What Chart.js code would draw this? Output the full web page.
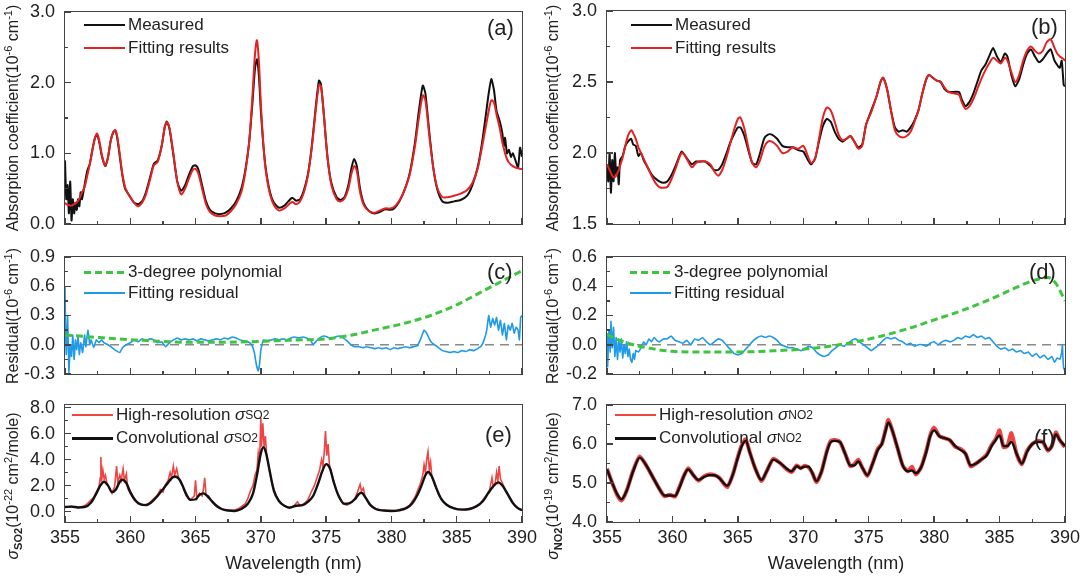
<!DOCTYPE html>
<html lang="en">
<head>
  <meta charset="UTF-8">
  <title>SO2 / NO2 absorption fitting</title>
  <script src="https://cdn.jsdelivr.net/npm/chart.js"></script>
  <style>
    body { margin: 0; background: #fff; font-family: Arial, "Liberation Sans", sans-serif; color: #222; }
    #wrap { position: relative; width: 1080px; height: 579px; overflow: hidden; }
    canvas { position: absolute; }
    .box { position: absolute; border: 1.5px solid #444; box-sizing: border-box; }
    .tk { position: absolute; background: #444; }
    .yt { position: absolute; transform: translate(-50%, -50%) rotate(-90deg); white-space: nowrap; font-size: 16px; line-height: 18px; }
    .yt sup, .yt sub { font-size: 11px; line-height: 0; }
    .lg { position: absolute; height: 20px; display: flex; align-items: center; font-size: 17px; white-space: nowrap; }
    .lg sub { font-size: 12px; line-height: 0; }
    .sw { display: inline-block; width: 41px; height: 2px; margin-right: 3px; }
    .dash { height: 3px; background: repeating-linear-gradient(90deg, #3ec43e 0 7px, transparent 7px 11px); }
    .tag { position: absolute; font-size: 22px; line-height: 22px; }
  </style>
</head>
<body>
<div id="wrap">
  <canvas id="pa" width="540" height="240" style="left:0;top:0"></canvas>
  <canvas id="pb" width="540" height="240" style="left:540px;top:0"></canvas>
  <canvas id="pc" width="540" height="145" style="left:0;top:240px"></canvas>
  <canvas id="pd" width="540" height="145" style="left:540px;top:240px"></canvas>
  <canvas id="pe" width="540" height="194" style="left:0;top:385px"></canvas>
  <canvas id="pf" width="540" height="194" style="left:540px;top:385px"></canvas>
  <div id="frames"></div>

  <!-- axis titles -->
  <div class="yt" style="left:13px;top:118px">Absorption coefficient(10<sup>-6</sup> cm<sup>-1</sup>)</div>
  <div class="yt" style="left:553px;top:118px">Absorption coefficient(10<sup>-6</sup> cm<sup>-1</sup>)</div>
  <div class="yt" style="left:13px;top:316px">Residual(10<sup>-6</sup> cm<sup>-1</sup>)</div>
  <div class="yt" style="left:553px;top:316px">Residual(10<sup>-6</sup> cm<sup>-1</sup>)</div>
  <div class="yt" style="left:13px;top:486px"><i>σ</i><sub><b>SO2</b></sub>(10<sup>-22</sup> cm<sup>2</sup>/mole)</div>
  <div class="yt" style="left:553px;top:486px"><i>σ</i><sub><b>NO2</b></sub>(10<sup>-19</sup> cm<sup>2</sup>/mole)</div>

  <!-- legends -->
  <div class="lg" style="left:84px;top:15px"><span class="sw" style="background:#111"></span>Measured</div>
  <div class="lg" style="left:84px;top:38px"><span class="sw" style="background:#e52222"></span>Fitting results</div>
  <div class="lg" style="left:631px;top:15px"><span class="sw" style="background:#111"></span>Measured</div>
  <div class="lg" style="left:631px;top:38px"><span class="sw" style="background:#e52222"></span>Fitting results</div>
  <div class="lg" style="left:84px;top:262px"><span class="sw dash"></span>3-degree polynomial</div>
  <div class="lg" style="left:84px;top:283px"><span class="sw" style="background:#1e9ae8"></span>Fitting residual</div>
  <div class="lg" style="left:630px;top:262px"><span class="sw dash"></span>3-degree polynomial</div>
  <div class="lg" style="left:630px;top:283px"><span class="sw" style="background:#1e9ae8"></span>Fitting residual</div>
  <div class="lg" style="left:72px;top:405px"><span class="sw" style="background:#ee4444"></span>High-resolution&nbsp;<i>σ</i><sub>SO2</sub></div>
  <div class="lg" style="left:72px;top:428px"><span class="sw" style="background:#111;height:3px"></span>Convolutional&nbsp;<i>σ</i><sub>SO2</sub></div>
  <div class="lg" style="left:615px;top:405px"><span class="sw" style="background:#ee4444"></span>High-resolution&nbsp;<i>σ</i><sub>NO2</sub></div>
  <div class="lg" style="left:615px;top:428px"><span class="sw" style="background:#111;height:3px"></span>Convolutional&nbsp;<i>σ</i><sub>NO2</sub></div>

  <div class="tag" style="left:487px;top:17px">(a)</div>
  <div class="tag" style="left:1031px;top:16px">(b)</div>
  <div class="tag" style="left:487px;top:261px">(c)</div>
  <div class="tag" style="left:1029px;top:261px">(d)</div>
  <div class="tag" style="left:485px;top:424px">(e)</div>
  <div class="tag" style="left:1034px;top:427px">(f)</div>
</div>

<script>
// ---- data ----
const xTicks = [355, 360, 365, 370, 375, 380, 385, 390];

// (a) SO2 measured vs fit
const aWl = [355.0,355.1,355.2,355.3,355.4,355.5,355.6,355.7,355.8,355.9,356.0,356.1,356.2,356.3,356.5,356.7,356.9,357.1,357.3,357.45,357.6,357.8,358.0,358.1,358.3,358.5,358.7,358.85,359.0,359.2,359.4,359.6,359.8,360.0,360.3,360.6,360.9,361.2,361.5,361.8,362.1,362.4,362.65,362.8,363.0,363.3,363.6,363.9,364.2,364.5,364.8,365.0,365.2,365.5,365.8,366.1,366.5,366.9,367.3,367.7,368.1,368.5,368.8,369.1,369.35,369.55,369.7,369.85,370.0,370.2,370.4,370.7,371.0,371.4,371.8,372.1,372.4,372.7,373.0,373.3,373.6,373.9,374.2,374.45,374.6,374.8,375.1,375.4,375.8,376.1,376.4,376.7,376.95,377.15,377.35,377.6,377.9,378.3,378.7,379.1,379.5,379.9,380.2,380.6,381.0,381.4,381.8,382.1,382.4,382.6,382.9,383.2,383.5,383.9,384.3,384.8,385.3,385.8,386.2,386.6,386.9,387.2,387.45,387.65,387.85,388.05,388.3,388.5,388.6,388.7,388.85,389.0,389.15,389.3,389.5,389.7,389.85,390.0];
const aMeas = [0.9,0.35,0.55,0.15,0.6,0.05,0.35,0.15,0.3,0.2,0.35,0.25,0.45,0.35,0.55,0.75,0.85,1.05,1.22,1.26,1.18,0.98,0.85,0.82,0.95,1.18,1.3,1.32,1.22,0.95,0.68,0.5,0.44,0.38,0.3,0.28,0.32,0.45,0.65,0.85,0.9,1.1,1.38,1.45,1.35,0.98,0.6,0.47,0.55,0.7,0.82,0.83,0.78,0.55,0.32,0.2,0.15,0.14,0.16,0.22,0.32,0.5,0.75,1.15,1.7,2.2,2.33,2.1,1.6,1.1,0.75,0.45,0.3,0.23,0.26,0.32,0.37,0.33,0.35,0.48,0.7,1.1,1.65,2.03,1.98,1.6,0.95,0.58,0.38,0.34,0.38,0.55,0.8,0.92,0.82,0.5,0.28,0.18,0.15,0.17,0.21,0.2,0.22,0.32,0.48,0.72,1.15,1.6,1.96,1.85,1.3,0.8,0.5,0.32,0.3,0.32,0.34,0.4,0.55,0.8,1.1,1.5,1.85,2.05,1.9,1.6,1.45,1.28,1.1,1.22,1.0,1.05,0.95,1.0,0.9,0.8,1.08,0.95];
const aFit = [0.3,0.28,0.27,0.27,0.26,0.26,0.27,0.28,0.29,0.31,0.33,0.36,0.4,0.45,0.52,0.68,0.85,1.05,1.22,1.28,1.2,1.0,0.85,0.83,0.95,1.18,1.3,1.33,1.24,0.98,0.7,0.52,0.44,0.38,0.3,0.25,0.3,0.42,0.62,0.83,0.88,1.1,1.38,1.44,1.36,1.0,0.6,0.42,0.5,0.65,0.77,0.78,0.72,0.5,0.28,0.17,0.12,0.11,0.12,0.18,0.28,0.45,0.72,1.15,1.8,2.4,2.6,2.3,1.7,1.1,0.72,0.42,0.27,0.19,0.22,0.27,0.31,0.28,0.32,0.45,0.68,1.08,1.6,1.97,1.95,1.6,0.95,0.55,0.35,0.32,0.36,0.5,0.72,0.82,0.75,0.45,0.26,0.18,0.16,0.19,0.22,0.22,0.24,0.33,0.48,0.7,1.1,1.5,1.82,1.75,1.25,0.8,0.52,0.38,0.38,0.4,0.43,0.48,0.58,0.78,1.05,1.35,1.6,1.75,1.72,1.55,1.35,1.15,1.08,1.0,0.92,0.87,0.84,0.82,0.8,0.79,0.78,0.78];

// (b) NO2 measured vs fit
const bWl = [355.0,355.1,355.2,355.3,355.4,355.5,355.6,355.7,355.8,355.9,356.0,356.2,356.4,356.6,356.85,357.0,357.2,357.4,357.6,357.8,358.1,358.4,358.7,359.0,359.3,359.6,359.9,360.2,360.5,360.7,360.9,361.2,361.5,361.8,362.1,362.5,362.9,363.2,363.5,363.8,364.1,364.4,364.7,365.0,365.2,365.5,365.8,366.1,366.4,366.7,367.0,367.3,367.6,368.0,368.4,368.8,369.2,369.6,370.0,370.3,370.6,370.9,371.2,371.5,371.8,372.1,372.4,372.7,373.0,373.3,373.6,373.9,374.2,374.5,374.8,375.2,375.6,375.9,376.1,376.4,376.7,377.0,377.3,377.6,377.9,378.2,378.5,378.8,379.1,379.4,379.6,379.9,380.2,380.5,380.8,381.1,381.5,381.9,382.1,382.4,382.7,383.0,383.3,383.6,383.9,384.2,384.5,384.8,385.1,385.4,385.6,385.9,386.2,386.5,386.8,387.1,387.4,387.7,388.0,388.3,388.6,388.9,389.2,389.4,389.6,389.75,389.9,390.0];
const bMeas = [1.92,1.8,2.0,1.72,1.95,1.8,2.0,1.85,1.9,1.78,1.95,1.98,2.05,2.08,2.1,2.06,2.05,1.98,2.0,1.95,1.9,1.85,1.82,1.8,1.79,1.8,1.84,1.9,1.97,2.01,1.99,1.95,1.92,1.94,1.94,1.94,1.91,1.88,1.88,1.92,1.99,2.07,2.13,2.18,2.18,2.12,2.02,1.93,1.92,2.0,2.1,2.13,2.13,2.1,2.05,2.04,2.04,2.02,2.01,1.96,1.92,1.96,2.08,2.19,2.24,2.22,2.15,2.1,2.08,2.1,2.12,2.08,2.04,2.06,2.2,2.3,2.4,2.5,2.53,2.45,2.3,2.18,2.15,2.16,2.15,2.18,2.23,2.3,2.42,2.52,2.55,2.53,2.51,2.5,2.45,2.43,2.43,2.43,2.38,2.33,2.36,2.42,2.5,2.58,2.62,2.68,2.74,2.68,2.64,2.7,2.68,2.55,2.47,2.52,2.62,2.7,2.73,2.68,2.64,2.66,2.7,2.73,2.65,2.62,2.6,2.65,2.48,2.47];
const bFit = [1.92,1.9,1.88,1.86,1.84,1.83,1.83,1.84,1.86,1.88,1.91,1.97,2.05,2.12,2.16,2.14,2.1,2.04,2.0,1.96,1.9,1.84,1.79,1.76,1.755,1.76,1.81,1.88,1.96,2.0,1.99,1.94,1.9,1.93,1.94,1.94,1.92,1.87,1.84,1.88,1.96,2.06,2.16,2.24,2.25,2.17,2.04,1.93,1.9,1.95,2.04,2.08,2.08,2.05,2.0,2.01,2.04,2.03,2.05,1.99,1.93,1.96,2.1,2.25,2.32,2.3,2.22,2.13,2.09,2.1,2.12,2.08,2.03,2.05,2.2,2.29,2.4,2.5,2.53,2.45,2.3,2.16,2.12,2.11,2.12,2.15,2.22,2.3,2.42,2.52,2.55,2.53,2.51,2.5,2.46,2.43,2.42,2.41,2.36,2.31,2.33,2.38,2.45,2.52,2.58,2.63,2.67,2.65,2.63,2.67,2.65,2.57,2.5,2.55,2.65,2.72,2.75,2.72,2.7,2.72,2.78,2.8,2.74,2.7,2.68,2.67,2.66,2.65];

// (c) SO2 residual and baseline polynomial
const cPolyWl = [355,357,359,361,363,365,367,369,371,373,375,377,379,381,383,385,387,388,389,390];
const cPoly = [0.1,0.08,0.06,0.045,0.03,0.025,0.025,0.03,0.04,0.05,0.06,0.1,0.16,0.22,0.3,0.41,0.55,0.62,0.69,0.76];
const cResWl = [355.0,355.05,355.1,355.2,355.3,355.4,355.5,355.6,355.7,355.8,355.9,356.0,356.1,356.2,356.35,356.5,356.6,356.75,356.9,357.0,357.2,357.4,357.6,357.8,358.0,358.3,358.6,358.9,359.2,359.4,359.7,360.0,360.3,360.6,360.9,361.2,361.5,361.8,362.1,362.4,362.7,363.0,363.3,363.6,363.9,364.2,364.5,364.8,365.1,365.4,365.7,366.0,366.3,366.6,366.9,367.2,367.5,367.8,368.1,368.4,368.7,369.0,369.3,369.5,369.65,369.8,369.9,370.0,370.2,370.5,370.8,371.1,371.4,371.7,372.0,372.3,372.6,372.9,373.2,373.5,373.8,374.0,374.2,374.5,374.8,375.1,375.4,375.7,376.0,376.3,376.6,376.9,377.2,377.5,377.8,378.1,378.4,378.7,379.0,379.3,379.6,379.9,380.2,380.5,380.8,381.1,381.4,381.7,382.0,382.3,382.5,382.7,382.9,383.1,383.3,383.6,383.9,384.2,384.5,384.8,385.1,385.4,385.7,386.0,386.3,386.6,386.9,387.1,387.3,387.45,387.6,387.75,387.9,388.05,388.2,388.35,388.5,388.65,388.8,388.95,389.1,389.25,389.4,389.55,389.7,389.8,389.9,390.0];
const cRes = [0.6,0.1,-0.1,0.3,-0.28,0.0,-0.12,0.1,-0.15,0.05,-0.05,0.08,-0.1,0.02,-0.08,0.1,-0.02,0.15,0.0,0.05,-0.03,0.05,0.02,0.05,0.02,0.0,-0.03,-0.06,-0.08,-0.03,0.0,0.02,0.05,0.03,0.06,0.04,0.06,0.05,0.02,0.03,-0.02,0.02,0.05,0.07,0.05,0.06,0.05,0.06,0.04,0.06,0.05,0.04,0.05,0.06,0.05,0.07,0.06,0.08,0.07,0.05,0.04,0.03,0.0,-0.08,-0.2,-0.27,-0.2,-0.05,0.05,0.04,0.05,0.06,0.05,0.06,0.05,0.07,0.08,0.07,0.08,0.07,0.05,0.0,0.03,0.07,0.09,0.08,0.06,0.08,0.09,0.07,0.04,0.0,-0.02,-0.02,-0.03,-0.02,-0.03,-0.04,-0.03,-0.04,-0.03,-0.05,-0.03,-0.04,-0.03,-0.02,-0.03,-0.02,-0.01,0.08,0.15,0.12,0.06,0.02,0.0,-0.03,-0.06,-0.07,-0.08,-0.07,-0.08,-0.06,-0.07,-0.05,-0.06,-0.04,-0.01,0.05,0.15,0.3,0.18,0.27,0.2,0.28,0.15,0.25,0.1,0.22,0.05,0.2,0.15,0.22,0.12,0.18,0.15,0.05,0.28,0.3];

// (d) NO2 residual and baseline polynomial
const dPolyWl = [355,356,357,358,359,360,362,364,366,368,370,372,374,376,378,380,382,384,386,387,388,388.7,389.3,390];
const dPoly = [0.07,0.03,0.0,-0.02,-0.035,-0.045,-0.05,-0.05,-0.048,-0.04,-0.03,-0.01,0.02,0.06,0.11,0.17,0.23,0.3,0.38,0.42,0.45,0.46,0.42,0.3];
const dResWl = [355.0,355.05,355.15,355.25,355.3,355.4,355.5,355.6,355.7,355.8,355.9,356.0,356.1,356.2,356.3,356.4,356.5,356.6,356.7,356.8,356.9,357.0,357.1,357.2,357.4,357.6,357.8,358.0,358.2,358.4,358.6,358.8,359.0,359.3,359.6,359.9,360.2,360.5,360.8,361.1,361.4,361.7,362.0,362.3,362.6,362.9,363.2,363.5,363.8,364.1,364.4,364.7,365.0,365.3,365.6,365.9,366.2,366.5,366.8,367.1,367.4,367.7,368.0,368.3,368.6,368.9,369.2,369.5,369.8,370.1,370.4,370.7,371.0,371.3,371.6,371.9,372.2,372.5,372.8,373.1,373.4,373.7,374.0,374.3,374.6,374.9,375.2,375.5,375.8,376.1,376.4,376.7,377.0,377.3,377.6,377.9,378.2,378.5,378.8,379.1,379.4,379.7,380.0,380.3,380.6,380.9,381.2,381.5,381.8,382.1,382.4,382.7,383.0,383.3,383.6,383.9,384.2,384.5,384.8,385.1,385.4,385.7,386.0,386.3,386.6,386.9,387.2,387.5,387.8,388.1,388.4,388.7,389.0,389.2,389.4,389.6,389.75,389.8,389.85,389.9,390.0];
const dRes = [0.08,-0.15,0.1,-0.05,0.16,-0.02,0.12,-0.08,0.05,-0.1,0.03,-0.05,0.04,-0.09,0.0,-0.06,0.02,-0.08,-0.03,-0.1,-0.12,-0.06,-0.1,-0.04,-0.05,-0.02,0.02,0.0,0.04,0.02,0.05,0.03,0.02,0.04,0.04,0.06,0.03,0.02,0.01,0.03,0.0,0.04,0.03,0.05,0.02,0.0,0.02,0.04,0.03,0.0,-0.03,-0.06,-0.07,-0.06,-0.03,0.0,0.03,0.05,0.06,0.05,0.06,0.05,0.03,0.0,-0.01,-0.02,-0.02,-0.03,-0.04,-0.03,-0.01,-0.02,-0.05,-0.07,-0.08,-0.07,-0.04,-0.02,0.0,-0.01,0.01,0.03,0.04,0.02,0.0,-0.02,-0.04,-0.02,0.0,0.03,0.05,0.04,0.05,0.03,0.02,0.0,0.01,-0.01,0.0,0.0,-0.01,0.01,0.02,0.0,0.02,0.03,0.02,0.03,0.05,0.04,0.06,0.05,0.07,0.05,0.06,0.04,0.05,0.02,-0.01,-0.03,-0.02,-0.04,-0.03,-0.05,-0.04,-0.06,-0.05,-0.08,-0.06,-0.09,-0.07,-0.1,-0.08,-0.12,-0.09,-0.1,-0.05,0.0,-0.1,-0.16,-0.18];

// (e) SO2 cross sections
const eConvWl = [355,355.5,356,356.5,357,357.4,357.7,358,358.3,358.6,358.9,359.2,359.4,359.7,360,360.4,360.8,361.2,361.6,362,362.4,362.8,363.1,363.4,363.7,364,364.3,364.6,365,365.3,365.6,365.9,366.2,366.6,367,367.5,368,368.5,369,369.4,369.7,370,370.2,370.4,370.7,371,371.4,371.8,372.2,372.7,373.2,373.6,374,374.4,374.7,375,375.3,375.6,376,376.4,376.8,377.2,377.5,377.7,378,378.4,378.8,379.4,380,380.6,381.2,381.6,382,382.3,382.6,382.8,383.1,383.4,383.8,384.2,384.8,385.4,386,386.5,387,387.4,387.8,388.2,388.5,388.9,389.3,389.7,390];
const eConv = [0.35,0.38,0.32,0.35,0.7,1.4,2.0,2.3,2.0,1.5,1.7,2.3,2.45,2.2,1.5,0.85,0.55,0.5,0.7,1.1,1.6,2.1,2.5,2.7,2.55,2.0,1.3,0.9,0.95,1.3,1.4,1.2,0.85,0.45,0.2,0.08,0.05,0.2,0.6,1.4,2.8,4.5,4.95,4.5,3.0,1.6,0.8,0.45,0.3,0.45,0.5,0.75,1.2,2.2,3.1,3.65,3.3,2.2,1.1,0.6,0.65,0.95,1.35,1.45,1.1,0.5,0.2,0.08,0.05,0.1,0.3,0.65,1.3,2.0,2.8,3.05,2.7,1.9,1.0,0.55,0.25,0.15,0.2,0.4,0.8,1.4,1.95,2.25,2.0,1.35,0.65,0.25,0.1];
const eHiWl = [355.0,355.5,356.0,356.5,356.8,357.0,357.2,357.4,357.6,357.7,357.75,357.8,357.9,358.0,358.1,358.2,358.4,358.6,358.8,358.95,359.05,359.2,359.3,359.45,359.55,359.7,359.8,360.0,360.3,360.6,361.0,361.4,361.8,362.1,362.3,362.5,362.7,362.9,363.05,363.15,363.3,363.4,363.55,363.7,363.9,364.1,364.3,364.6,364.9,365.0,365.1,365.3,365.5,365.6,365.7,365.8,366.0,366.3,366.6,367.0,367.5,368.0,368.4,368.8,369.0,369.2,369.4,369.55,369.7,369.8,369.9,370.0,370.05,370.15,370.25,370.35,370.45,370.6,370.8,371.0,371.3,371.7,372.1,372.5,372.8,373.0,373.3,373.6,373.9,374.1,374.3,374.5,374.65,374.75,374.85,374.95,375.05,375.15,375.25,375.4,375.6,375.8,376.0,376.3,376.6,376.9,377.2,377.4,377.6,377.7,377.85,378.0,378.3,378.7,379.2,379.8,380.4,381.0,381.4,381.8,382.0,382.2,382.4,382.5,382.6,382.7,382.8,382.9,383.0,383.1,383.3,383.6,384.0,384.5,385.0,385.6,386.2,386.7,387.0,387.3,387.5,387.7,387.8,387.95,388.05,388.15,388.25,388.35,388.5,388.7,389.0,389.3,389.6,390.0];
const eHi = [0.35,0.4,0.3,0.45,0.7,0.9,1.1,1.5,1.9,2.6,4.2,2.3,3.2,2.5,2.8,2.2,1.8,1.4,1.9,3.5,2.2,2.8,2.4,3.3,2.4,2.9,1.8,1.4,0.9,0.6,0.5,0.6,1.0,1.3,1.7,1.5,2.1,2.4,3.0,2.6,3.5,2.8,3.3,2.6,2.3,1.7,1.2,0.9,1.2,2.4,1.0,1.4,1.2,1.7,2.6,1.3,1.2,0.7,0.4,0.2,0.1,0.1,0.3,0.6,1.0,1.6,2.0,2.8,3.2,4.5,3.8,7.2,5.0,6.8,5.0,5.8,4.2,3.5,2.4,1.7,0.9,0.5,0.3,0.4,0.75,0.45,0.6,0.9,1.6,2.0,2.6,3.2,4.0,3.5,4.5,6.2,4.3,5.2,3.6,3.0,2.3,1.6,1.2,0.6,0.5,0.7,1.0,1.5,2.1,1.6,1.8,1.1,0.55,0.25,0.1,0.08,0.1,0.25,0.5,1.1,1.6,2.1,2.8,3.6,3.0,4.0,4.6,3.2,3.8,2.6,2.2,1.3,0.7,0.35,0.2,0.15,0.3,0.5,0.9,1.3,1.6,2.6,1.9,2.2,3.0,2.4,3.5,2.5,2.2,1.7,1.2,0.7,0.35,0.1];

// (f) NO2 cross sections
const fWl = [355,355.4,355.8,356.1,356.5,357,357.5,358,358.5,359,359.4,359.8,360.2,360.5,360.9,361.2,361.6,362,362.4,362.8,363.2,363.6,364,364.2,364.6,365,365.3,365.6,365.9,366.3,366.8,367.2,367.7,368.2,368.7,369.1,369.5,369.8,370.1,370.4,370.7,371,371.4,371.8,372.1,372.4,372.8,373.2,373.6,373.9,374.2,374.5,374.9,375.3,375.7,376,376.3,376.5,376.8,377.2,377.6,378,378.3,378.6,379,379.4,379.7,380,380.4,380.8,381.2,381.6,382,382.4,382.8,383.2,383.6,384,384.4,384.7,385,385.3,385.6,385.9,386.3,386.7,387.1,387.5,387.9,388.3,388.7,389,389.3,389.6,390];
const fConv = [5.35,5.0,4.7,4.58,4.8,5.3,5.65,5.45,5.15,4.85,4.68,4.68,4.67,4.85,5.2,5.35,5.2,5.08,5.15,5.2,5.2,5.12,4.97,4.93,5.2,5.65,5.95,6.08,5.8,5.4,5.08,5.3,5.6,5.52,5.38,5.3,5.43,5.38,5.42,5.42,5.25,5.05,5.3,5.8,6.05,6.08,6.05,5.75,5.45,5.45,5.55,5.4,5.2,5.5,5.85,6.0,6.35,6.55,6.35,5.9,5.45,5.3,5.32,5.25,5.4,5.8,6.2,6.35,6.2,6.15,6.1,5.95,5.85,5.75,5.45,5.5,5.6,5.7,5.95,6.1,6.22,5.95,5.95,6.05,5.75,5.5,5.8,6.0,6.05,6.05,5.85,5.95,6.25,6.1,5.95];
const fHi = [5.37,5.0,4.68,4.55,4.8,5.32,5.68,5.45,5.15,4.85,4.66,4.7,4.65,4.87,5.2,5.38,5.2,5.06,5.17,5.22,5.2,5.13,4.95,4.9,5.2,5.67,5.97,6.12,5.8,5.4,5.05,5.3,5.62,5.52,5.36,5.28,5.45,5.38,5.44,5.4,5.25,5.02,5.3,5.82,6.08,6.1,6.05,5.75,5.43,5.48,5.6,5.4,5.18,5.5,5.88,6.0,6.38,6.62,6.35,5.9,5.45,5.3,5.42,5.22,5.4,5.82,6.22,6.42,6.2,6.15,6.1,5.93,5.88,5.75,5.42,5.5,5.6,5.72,5.98,6.12,6.35,5.92,5.95,6.28,5.75,5.48,5.82,6.0,6.08,6.05,5.83,5.95,6.3,6.1,5.92];

// ---- helpers ----
const pts = (xs, ys) => xs.map((x, i) => ({ x: x, y: ys[i] }));

Chart.defaults.font.family = 'Arial, "Liberation Sans", sans-serif';
Chart.defaults.color = '#222';

// dashed zero line under the residual curves
const zeroLine = {
  id: 'zeroLine',
  beforeDatasetsDraw(chart, args, opts) {
    if (!opts.on) return;
    const { ctx, chartArea: a, scales: { y } } = chart;
    const yy = y.getPixelForValue(0);
    ctx.save();
    ctx.strokeStyle = '#8a8a8a';
    ctx.lineWidth = 1.4;
    ctx.setLineDash([9, 6]);
    ctx.beginPath();
    ctx.moveTo(a.left, yy);
    ctx.lineTo(a.right, yy);
    ctx.stroke();
    ctx.restore();
  }
};

// plot box and inward ticks, placed from the chart's own scales
const frames = document.getElementById('frames');
function addDiv(cls, l, t, w, h) {
  const d = document.createElement('div');
  d.className = cls;
  d.style.cssText = `left:${l}px;top:${t}px;width:${w}px;height:${h}px`;
  frames.appendChild(d);
}
function outline(chart) {
  const cv = chart.canvas, ox = cv.offsetLeft, oy = cv.offsetTop;
  const a = chart.chartArea, x = chart.scales.x, y = chart.scales.y;
  addDiv('box', ox + a.left - 0.75, oy + a.top - 0.75, a.width + 1.5, a.height + 1.5);
  xTicks.forEach((v, i) => {
    addDiv('tk', ox + x.getPixelForValue(v) - 0.75, oy + a.bottom - 6, 1.5, 6);
    if (i) addDiv('tk', ox + x.getPixelForValue(v - 2.5) - 0.75, oy + a.bottom - 3, 1.5, 3);
  });
  const yt = y.ticks.map(t => t.value);
  yt.forEach((v, i) => {
    addDiv('tk', ox + a.left, oy + y.getPixelForValue(v) - 0.75, 6, 1.5);
    if (i) addDiv('tk', ox + a.left, oy + y.getPixelForValue((v + yt[i - 1]) / 2) - 0.75, 3, 1.5);
  });
}

function panel(id, datasets, o) {
  const chart = new Chart(document.getElementById(id), {
    type: 'line',
    data: { datasets: datasets },
    options: {
      responsive: false,
      animation: false,
      events: [],
      layout: { padding: o.pad },
      elements: { point: { radius: 0 } },
      plugins: {
        legend: { display: false },
        tooltip: { enabled: false },
        zeroLine: { on: !!o.zero }
      },
      scales: {
        x: {
          type: 'linear', min: 355, max: 390,
          display: !!o.showX,
          afterFit: s => { if (o.showX) s.height = 57; s.paddingLeft = 0; s.paddingRight = 0; },
          afterBuildTicks: s => { s.ticks = xTicks.map(v => ({ value: v })); },
          grid: { display: false, drawTicks: false },
          border: { display: false },
          ticks: { padding: 5, font: { size: 18 }, color: '#222' },
          title: { display: true, text: 'Wavelength (nm)', font: { size: 18 }, color: '#222', padding: { top: 0, bottom: 4 } }
        },
        y: {
          type: 'linear', min: o.min, max: o.max,
          afterFit: s => { s.width = o.yw; s.paddingTop = 0; s.paddingBottom = 0; },
          afterBuildTicks: s => { s.ticks = o.ticks.map(v => ({ value: v })); },
          grid: { display: false, drawTicks: false },
          border: { display: false },
          ticks: { padding: 10, font: { size: 18 }, color: '#222', callback: v => v.toFixed(1) }
        }
      }
    },
    plugins: [zeroLine]
  });
  outline(chart);
  return chart;
}

const red = '#e52222', black = '#111', green = '#3ec43e', blue = '#1e9ae8';

// (a)
panel('pa', [
  { data: pts(aWl, aFit), borderColor: red, borderWidth: 2, tension: 0.3 },
  { data: pts(aWl, aMeas), borderColor: black, borderWidth: 2, tension: 0.2 }
], { min: 0, max: 3, ticks: [0, 1, 2, 3], yw: 65, pad: { top: 12, right: 18, bottom: 16 } });

// (b)
panel('pb', [
  { data: pts(bWl, bFit), borderColor: red, borderWidth: 2, tension: 0.3 },
  { data: pts(bWl, bMeas), borderColor: black, borderWidth: 2, tension: 0.2 }
], { min: 1.5, max: 3.0, ticks: [1.5, 2.0, 2.5, 3.0], yw: 67, pad: { top: 11, right: 15, bottom: 16 } });

// (c)
panel('pc', [
  { data: pts(cPolyWl, cPoly), borderColor: green, borderWidth: 3, borderDash: [7, 4], cubicInterpolationMode: 'monotone' },
  { data: pts(cResWl, cRes), borderColor: blue, borderWidth: 1.6, tension: 0.1 }
], { min: -0.3, max: 0.9, ticks: [-0.3, 0, 0.3, 0.6, 0.9], yw: 65, zero: true, pad: { top: 17, right: 18, bottom: 11 } });

// (d)
panel('pd', [
  { data: pts(dPolyWl, dPoly), borderColor: green, borderWidth: 3, borderDash: [7, 4], cubicInterpolationMode: 'monotone' },
  { data: pts(dResWl, dRes), borderColor: blue, borderWidth: 1.6, tension: 0.1 }
], { min: -0.2, max: 0.6, ticks: [-0.2, 0, 0.2, 0.4, 0.6], yw: 67, zero: true, pad: { top: 17, right: 15, bottom: 11 } });

// (e)
panel('pe', [
  { data: pts(eConvWl, eConv), borderColor: black, borderWidth: 2.4, cubicInterpolationMode: 'monotone' },
  { data: pts(eHiWl, eHi), borderColor: '#ee4444', borderWidth: 1.6, tension: 0 }
], { min: -0.8, max: 8.2, ticks: [0, 2, 4, 6, 8], yw: 65, showX: true, pad: { top: 20, right: 18, bottom: 0 } });

// (f)
panel('pf', [
  { data: pts(fWl, fConv), borderColor: black, borderWidth: 2.4, cubicInterpolationMode: 'monotone' },
  { data: pts(fWl, fHi), borderColor: '#ee4444', borderWidth: 4, tension: 0.2 }
], { min: 4, max: 7, ticks: [4, 5, 6, 7], yw: 67, showX: true, pad: { top: 20, right: 15, bottom: 0 } });
</script>
</body>
</html>
